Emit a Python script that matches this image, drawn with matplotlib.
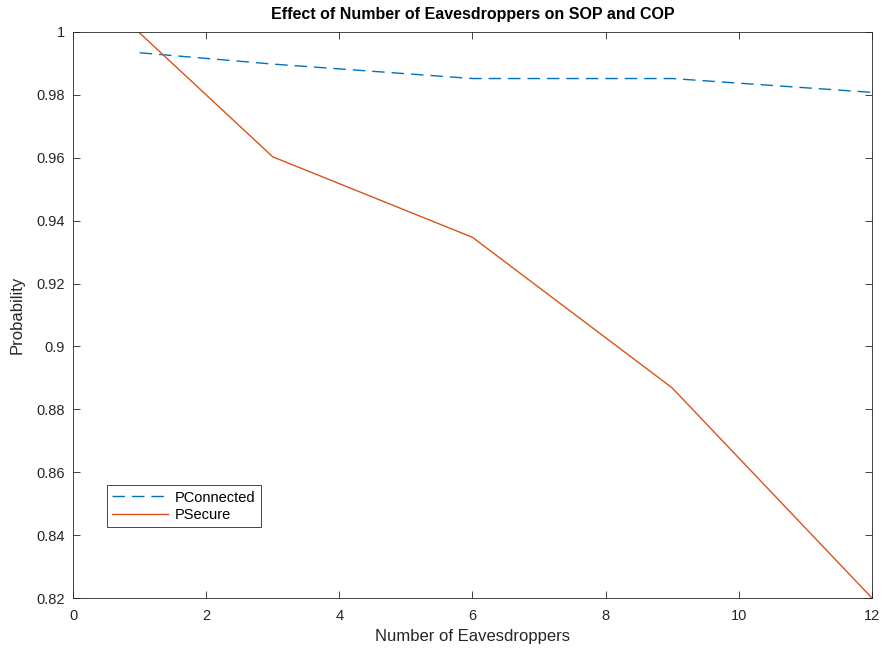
import matplotlib.pyplot as plt

plt.rcParams['font.family'] = ['Liberation Sans', 'DejaVu Sans']

# Data
eavesdroppers = [1, 3, 6, 9, 12]
p_connected = [0.9934, 0.9898, 0.9852, 0.9852, 0.9808]
p_secure = [0.9997, 0.9603, 0.9347, 0.8868, 0.8200]

fig = plt.figure(figsize=(8.83, 6.53), dpi=100)
ax = fig.add_axes([0.0827, 0.0842, 0.9048, 0.8668])

ax.plot(eavesdroppers, p_connected, linestyle=(0, (9, 5)), color='#0072BD',
        linewidth=1.0, label='PConnected')
ax.plot(eavesdroppers, p_secure, linestyle='-', color='#D95319',
        linewidth=1.0, label='PSecure')

ax.set_xlim(0, 12)
ax.set_ylim(0.82, 1.0)
ax.set_xticks(range(0, 13, 2))
ax.set_yticks([0.82, 0.84, 0.86, 0.88, 0.9, 0.92, 0.94, 0.96, 0.98, 1.0])
ax.set_yticklabels(['0.82', '0.84', '0.86', '0.88', '0.9', '0.92', '0.94',
                    '0.96', '0.98', '1'])

ax.tick_params(direction='in', top=True, right=True, labelsize=10.5,
               length=5, width=0.6, colors='#262626')
ax.tick_params(axis='x', pad=8)
ax.tick_params(axis='y', pad=6)
for s in ax.spines.values():
    s.set_linewidth(0.6)
    s.set_color('#262626')

ax.set_title('Effect of Number of Eavesdroppers on SOP and COP',
             fontsize=11.5, fontweight='bold', pad=9)
ax.set_xlabel('Number of Eavesdroppers', fontsize=12, color='#262626', labelpad=4)
ax.set_ylabel('Probability', fontsize=12, color='#262626', labelpad=8)

leg = ax.legend(loc='lower left', bbox_to_anchor=(0.0426, 0.125),
                borderaxespad=0, fancybox=False, edgecolor='#262626',
                fontsize=10.5, handlelength=3.8, borderpad=0.35,
                labelspacing=0.25, handletextpad=0.5, framealpha=1)
leg.get_frame().set_linewidth(0.6)

fig.savefig('out.png', dpi=100)
